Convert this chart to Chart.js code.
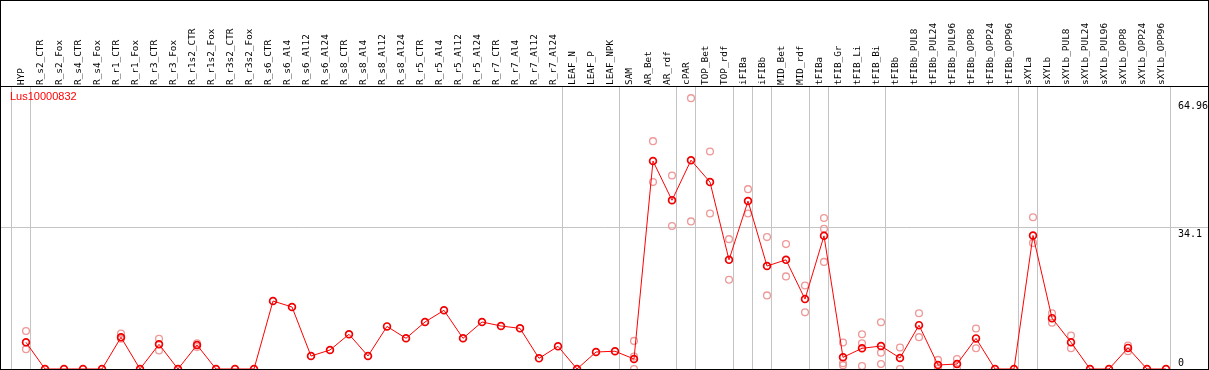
<!DOCTYPE html>
<html><head><meta charset="utf-8">
<script src="https://cdn.jsdelivr.net/npm/chart.js@4/dist/chart.umd.min.js"></script>
<style>
html,body{margin:0;padding:0;background:#fff;}
#wrap{position:absolute;left:0;top:0;width:1207px;height:368px;border:1px solid #000;}
canvas{display:block;}
</style></head><body>
<div id="wrap"><canvas id="c" width="1207" height="368"></canvas></div>
<script>
const geneName = 'Lus10000832';
const categories = ['HYP','R_s2_CTR','R_s2_Fox','R_s4_CTR','R_s4_Fox','R_r1_CTR','R_r1_Fox','R_r3_CTR','R_r3_Fox',
  'R_r1s2_CTR','R_r1s2_Fox','R_r3s2_CTR','R_r3s2_Fox','R_s6_CTR','R_s6_Al4','R_s6_Al12','R_s6_Al24',
  'R_s8_CTR','R_s8_Al4','R_s8_Al12','R_s8_Al24','R_r5_CTR','R_r5_Al4','R_r5_Al12','R_r5_Al24',
  'R_r7_CTR','R_r7_Al4','R_r7_Al12','R_r7_Al24','LEAF_N','LEAF_P','LEAF_NPK','SAM','AR_Bet','AR_rdf',
  'cPAR','TOP_Bet','TOP_rdf','iFIBa','iFIBb','MID_Bet','MID_rdf','tFIBa','tFIB_Gr','tFIB_Li','tFIB_Bi',
  'tFIBb','tFIBb_PUL8','tFIBb_PUL24','tFIBb_PUL96','tFIBb_OPP8','tFIBb_OPP24','tFIBb_OPP96',
  'sXYLa','sXYLb','sXYLb_PUL8','sXYLb_PUL24','sXYLb_PUL96','sXYLb_OPP8','sXYLb_OPP24','sXYLb_OPP96'];
const means = [6.45,0,0,0,0,7.66,0,5.97,0,
  5.8,0,0,0,16.44,15.0,3.14,4.6,
  8.39,3.14,10.3,7.42,11.37,14.19,7.42,11.37,
  10.4,9.83,2.58,5.48,0,4.11,4.3,2.42,50.3,40.8,
  50.5,45.2,26.4,40.6,24.9,26.4,16.9,32.2,2.82,5.0,5.56,
  2.66,10.6,0.97,1.2,7.4,0,0,
  32.3,12.3,6.45,0,0,5.1,0,0];
const replicates = [[9.2,4.8],[],[],[],[],[8.6,7.3],[],[7.3,4.5],[],
  [6.2,5.3],[],[],[],[],[],[],[],
  [],[],[],[],[],[],[],[],
  [],[],[],[],[],[],[],[6.8,3.0,0],[55.1,45.2],[46.8,34.6],
  [65.5,35.7],[52.6,37.6],[31.4,21.6],[43.5,37.6],[31.9,17.8],[30.2,22.4],[20.2,13.7],[36.5,33.9,25.9],[6.4,1.4,0.9],[8.4,6.2,0.7],[11.3,3.95,1.2],
  [5.2,0],[13.5,7.7],[2.2,0],[2.4,0],[9.8,5.0],[],[],
  [36.7,30.5],[13.5,11.2],[8.1,5.0],[],[],[5.7,4.3],[],[]];
const yTickValues = [0, 34.1, 64.96];
const yTickLabels = ['0', '34.1', '64.96'];
const groupEnds = [-1, 0, 28, 31, 34, 35, 37, 38, 39, 41, 42, 45, 52, 53, 60];

const meanPoints = means.map((v, i) => ({x: i, y: v}));
const repPoints = [];
replicates.forEach((arr, i) => arr.forEach(v => repPoints.push({x: i, y: v})));

const X_MIN = -25 / 19, X_MAX = X_MIN + 1207 / 19;
const MONO = '"DejaVu Sans Mono", monospace';

const noPad = s => { s.paddingLeft = 0; s.paddingRight = 0; s.paddingTop = 0; s.paddingBottom = 0; };

const titlePlugin = {
  id: 'geneTitle',
  afterDraw(chart) {
    const {ctx, chartArea} = chart;
    ctx.save();
    ctx.fillStyle = '#ff0000';
    ctx.font = '11px "Liberation Sans", Arial, sans-serif';
    ctx.textBaseline = 'top';
    ctx.textAlign = 'left';
    ctx.fillText(geneName, chartArea.left + 9, chartArea.top + 5);
    ctx.restore();
  }
};

new Chart(document.getElementById('c'), {
  data: {
    datasets: [
      {
        type: 'scatter', label: 'replicates', data: repPoints, order: 2,
        pointRadius: 3.4, pointBorderWidth: 1.3, pointBorderColor: '#ee9898',
        pointBackgroundColor: 'rgba(0,0,0,0)', showLine: false, xAxisID: 'x', yAxisID: 'y'
      },
      {
        type: 'line', label: geneName, data: meanPoints, order: 1,
        borderColor: '#ff0000', borderWidth: 1, tension: 0,
        pointRadius: 3.4, pointBorderWidth: 1.7, pointBorderColor: '#f00000',
        pointBackgroundColor: 'rgba(0,0,0,0)', xAxisID: 'x', yAxisID: 'y'
      }
    ]
  },
  options: {
    responsive: false, animation: false, devicePixelRatio: 1,
    layout: {padding: 0, autoPadding: false},
    plugins: {legend: {display: false}, tooltip: {enabled: false}, title: {display: false}},
    scales: {
      x: {
        type: 'linear', position: 'top', min: X_MIN, max: X_MAX,
        afterBuildTicks: s => { s.ticks = categories.map((_, i) => ({value: i})); },
        afterFit: s => { s.height = 85; noPad(s); },
        grid: {display: false, drawTicks: false},
        border: {display: true, color: '#000', width: 1},
        ticks: {
          autoSkip: false, maxRotation: 90, minRotation: 90, padding: 1, labelOffset: 7,
          color: '#000', font: {family: MONO, size: 9.4},
          callback: v => categories[v] !== undefined ? categories[v] : ''
        }
      },
      xg: {
        type: 'linear', position: 'bottom', min: X_MIN, max: X_MAX,
        afterBuildTicks: s => { s.ticks = groupEnds.map(i => ({value: i + 0.23})); },
        afterFit: s => { s.height = 0; noPad(s); },
        grid: {display: true, color: '#c4c4c4', lineWidth: 1, drawTicks: false},
        border: {display: false},
        ticks: {display: false}
      },
      y: {
        type: 'linear', position: 'right', min: 0, max: 68.44,
        afterBuildTicks: s => { s.ticks = yTickValues.map(v => ({value: v})); },
        afterFit: s => { s.width = 0; noPad(s); },
        grid: {
          drawTicks: false, lineWidth: 1,
          color: c => (c.tick && c.tick.value === 34.1) ? '#c4c4c4' : 'rgba(0,0,0,0)'
        },
        border: {display: false},
        ticks: {
          mirror: true, crossAlign: 'far', padding: 0, color: '#000',
          font: {family: MONO, size: 10},
          callback: v => {
            const t = yTickLabels[yTickValues.indexOf(v)];
            return v === 0 ? [t, ''] : ['', t];
          }
        }
      }
    }
  },
  plugins: [titlePlugin]
});
</script>
</body></html>
